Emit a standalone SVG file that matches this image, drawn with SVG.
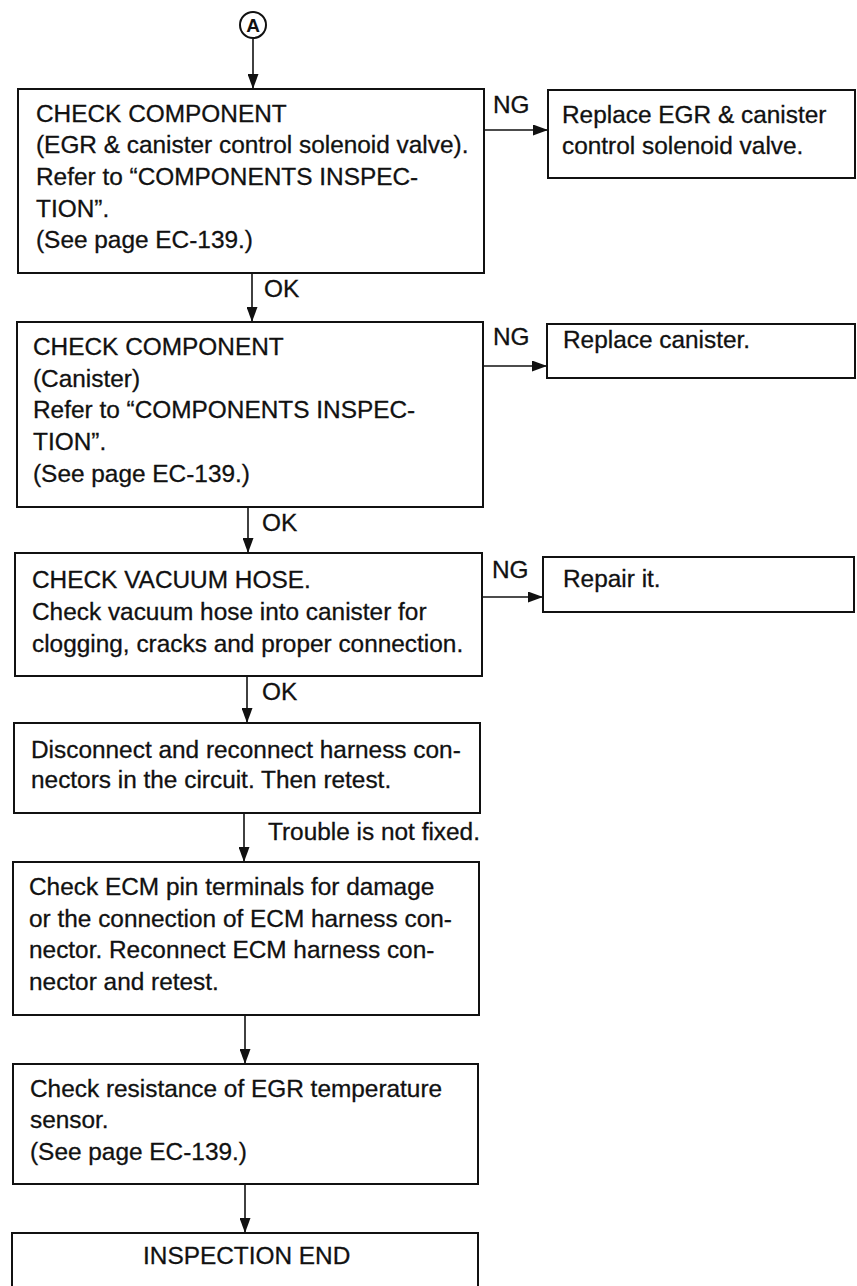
<svg xmlns="http://www.w3.org/2000/svg" width="857" height="1286" viewBox="0 0 857 1286">
<style>
.box{fill:#fff;stroke:#111;stroke-width:2}
.t{font-family:"Liberation Sans",Arial,sans-serif;font-size:24.4px;fill:#111;stroke:#111;stroke-width:0.3}
.c{stroke:#111;stroke-width:1.6;fill:none}
</style>
<defs>
<marker id="ah" viewBox="0 0 15 11" refX="15" refY="5.5" markerWidth="15" markerHeight="11" markerUnits="userSpaceOnUse" orient="auto">
<path d="M0,0 L15,5.5 L0,11 Z" fill="#111"/>
</marker>
</defs>
<rect width="857" height="1286" fill="#fff"/>
<g id="connectors">
<line class="c" x1="253" y1="39" x2="253" y2="89" marker-end="url(#ah)"/>
<line class="c" x1="484" y1="130" x2="548" y2="130" marker-end="url(#ah)"/>
<text class="t" x="493" y="113">NG</text>
<line class="c" x1="252" y1="273" x2="252" y2="322" marker-end="url(#ah)"/>
<text class="t" x="264" y="297">OK</text>
<line class="c" x1="483" y1="366" x2="547" y2="366" marker-end="url(#ah)"/>
<text class="t" x="493" y="345">NG</text>
<line class="c" x1="248" y1="507" x2="248" y2="553" marker-end="url(#ah)"/>
<text class="t" x="262" y="531">OK</text>
<line class="c" x1="482" y1="597" x2="543" y2="597" marker-end="url(#ah)"/>
<text class="t" x="492" y="578">NG</text>
<line class="c" x1="247" y1="676" x2="247" y2="723" marker-end="url(#ah)"/>
<text class="t" x="262" y="700">OK</text>
<line class="c" x1="244" y1="813" x2="244" y2="862" marker-end="url(#ah)"/>
<text class="t" x="268" y="840">Trouble is not fixed.</text>
<line class="c" x1="245" y1="1015" x2="245" y2="1064" marker-end="url(#ah)"/>
<line class="c" x1="245" y1="1184" x2="245" y2="1233" marker-end="url(#ah)"/>
</g>
<g id="start">
<circle cx="253" cy="25" r="13" fill="#fff" stroke="#111" stroke-width="2"/>
<text x="253" y="32" text-anchor="middle" font-family="Liberation Sans,Arial,sans-serif" font-size="19" font-weight="bold" fill="#111">A</text>
</g>
<g id="n1">
<rect class="box" x="18" y="89" width="466" height="184"/>
<text class="t" x="36" y="122">CHECK COMPONENT</text>
<text class="t" x="36" y="153">(EGR &amp; canister control solenoid valve).</text>
<text class="t" x="36" y="185">Refer to “COMPONENTS INSPEC-</text>
<text class="t" x="36" y="217">TION”.</text>
<text class="t" x="36" y="248">(See page EC-139.)</text>
</g>
<g id="r1">
<rect class="box" x="548" y="90" width="307" height="88"/>
<text class="t" x="562" y="123">Replace EGR &amp; canister</text>
<text class="t" x="562" y="154">control solenoid valve.</text>
</g>
<g id="n2">
<rect class="box" x="17" y="322" width="466" height="185"/>
<text class="t" x="33" y="355">CHECK COMPONENT</text>
<text class="t" x="33" y="387">(Canister)</text>
<text class="t" x="33" y="418">Refer to “COMPONENTS INSPEC-</text>
<text class="t" x="33" y="450">TION”.</text>
<text class="t" x="33" y="482">(See page EC-139.)</text>
</g>
<g id="r2">
<rect class="box" x="547" y="324" width="308" height="54"/>
<text class="t" x="563" y="348">Replace canister.</text>
</g>
<g id="n3">
<rect class="box" x="15" y="553" width="467" height="123"/>
<text class="t" x="32" y="588">CHECK VACUUM HOSE.</text>
<text class="t" x="32" y="620">Check vacuum hose into canister for</text>
<text class="t" x="32" y="652">clogging, cracks and proper connection.</text>
</g>
<g id="r3">
<rect class="box" x="543" y="557" width="311" height="55"/>
<text class="t" x="563" y="587">Repair it.</text>
</g>
<g id="n4">
<rect class="box" x="14" y="723" width="466" height="90"/>
<text class="t" x="31" y="758">Disconnect and reconnect harness con-</text>
<text class="t" x="31" y="788">nectors in the circuit. Then retest.</text>
</g>
<g id="n5">
<rect class="box" x="13" y="862" width="466" height="153"/>
<text class="t" x="29" y="895">Check ECM pin terminals for damage</text>
<text class="t" x="29" y="927">or the connection of ECM harness con-</text>
<text class="t" x="29" y="958">nector. Reconnect ECM harness con-</text>
<text class="t" x="29" y="990">nector and retest.</text>
</g>
<g id="n6">
<rect class="box" x="13" y="1064" width="465" height="120"/>
<text class="t" x="30" y="1097">Check resistance of EGR temperature</text>
<text class="t" x="30" y="1128">sensor.</text>
<text class="t" x="30" y="1160">(See page EC-139.)</text>
</g>
<g id="n7">
<rect class="box" x="12" y="1233" width="466" height="60"/>
<text class="t" x="143" y="1264">INSPECTION END</text>
</g>
</svg>
